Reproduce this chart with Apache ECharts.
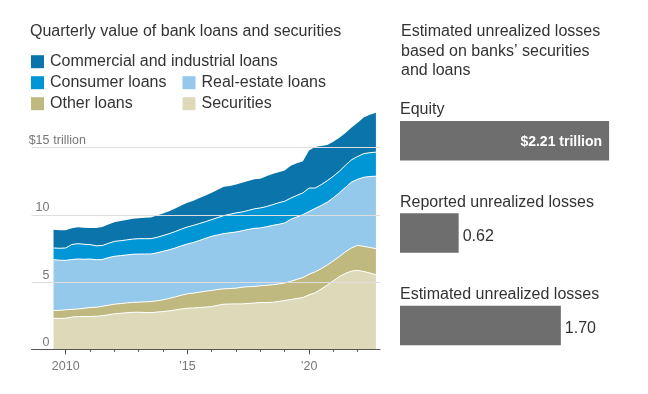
<!DOCTYPE html>
<html>
<head>
<meta charset="utf-8">
<script src="https://cdn.jsdelivr.net/npm/echarts@6/dist/echarts.min.js"></script>
<style>
html,body{margin:0;padding:0;background:#fff;}
#chart{width:648px;height:394px;}
</style>
</head>
<body>
<div id="chart"></div>
<script>
// ---- Data (trillions of dollars) ----
const quarters = [2009.5,2009.75,2010,2010.25,2010.5,2010.75,2011,2011.25,2011.5,2011.75,
  2012,2012.25,2012.5,2012.75,2013,2013.25,2013.5,2013.75,2014,2014.25,
  2014.5,2014.75,2015,2015.25,2015.5,2015.75,2016,2016.25,2016.5,2016.75,
  2017,2017.25,2017.5,2017.75,2018,2018.25,2018.5,2018.75,2019,2019.25,
  2019.5,2019.75,2020,2020.25,2020.5,2020.75,2021,2021.25,2021.5,2021.75,
  2022,2022.25,2022.5,2022.75];

const securities = [2.31,2.30,2.31,2.40,2.44,2.44,2.44,2.46,2.50,2.57,
  2.64,2.68,2.72,2.75,2.76,2.74,2.73,2.77,2.81,2.86,
  2.93,3.00,3.06,3.08,3.11,3.14,3.18,3.28,3.36,3.37,
  3.38,3.38,3.41,3.44,3.48,3.48,3.50,3.56,3.63,3.70,
  3.78,3.85,4.05,4.20,4.48,4.78,5.10,5.42,5.65,5.82,
  5.87,5.79,5.68,5.54];

const otherLoans = [0.58,0.60,0.63,0.57,0.56,0.61,0.67,0.67,0.70,0.71,
  0.72,0.72,0.73,0.74,0.75,0.79,0.82,0.84,0.87,0.92,
  0.97,1.02,1.07,1.10,1.14,1.18,1.20,1.17,1.14,1.15,
  1.17,1.24,1.25,1.23,1.25,1.28,1.30,1.30,1.30,1.36,
  1.42,1.49,1.53,1.56,1.52,1.49,1.48,1.48,1.60,1.73,
  1.86,1.87,1.90,1.95];

const realEstateLoans = [3.78,3.73,3.68,3.71,3.72,3.65,3.61,3.53,3.48,3.54,
  3.56,3.57,3.57,3.58,3.58,3.56,3.54,3.57,3.61,3.62,
  3.64,3.68,3.71,3.77,3.85,3.94,4.03,4.06,4.11,4.15,
  4.18,4.20,4.26,4.33,4.30,4.36,4.42,4.44,4.47,4.61,
  4.65,4.68,4.67,4.72,4.70,4.68,4.70,4.74,4.80,4.90,
  4.92,5.14,5.28,5.39];

const consumerLoans = [0.87,0.89,0.92,1.12,1.14,1.12,1.07,1.04,1.04,1.06,
  1.11,1.11,1.12,1.13,1.14,1.14,1.14,1.15,1.17,1.20,
  1.22,1.24,1.26,1.27,1.26,1.24,1.24,1.29,1.34,1.38,
  1.42,1.40,1.41,1.45,1.49,1.50,1.54,1.60,1.62,1.58,
  1.60,1.62,1.75,1.52,1.55,1.60,1.60,1.61,1.65,1.65,
  1.70,1.76,1.77,1.79];

const commercialLoans = [1.36,1.33,1.31,1.20,1.22,1.23,1.24,1.32,1.38,1.40,
  1.42,1.47,1.48,1.52,1.52,1.55,1.57,1.62,1.64,1.68,
  1.72,1.76,1.80,1.84,1.89,1.94,1.99,2.08,2.14,2.10,
  2.11,2.18,2.19,2.21,2.17,2.26,2.29,2.28,2.28,2.41,
  2.40,2.36,2.80,3.05,2.87,2.65,2.57,2.50,2.40,2.40,
  2.50,2.69,2.82,2.93];

const seriesNames = ['Securities','Other loans','Real-estate loans','Consumer loans','Commercial and industrial loans'];

const xTickValues = [2010, 2015, 2020];
const xTickLabels = ['2010', '\u201915', '\u201920'];
const xMinorTicks = [2010,2011,2012,2013,2014,2015,2016,2017,2018,2019,2020,2021,2022];
const yTickValues = [0, 5, 10, 15];
const yTickLabels = ['0', '5', '10', '$15'];
const yUnit = ' trillion';

const barCategories = ['Equity', 'Reported unrealized losses', 'Estimated unrealized losses'];
const barValues = [2.21, 0.62, 1.70];

// ---- Styling ----
const FONT = "'Liberation Sans', Arial, Helvetica, sans-serif";
const AXISFONT = "'Liberation Sans', Arial, sans-serif";
const colors = ['#ddd9b9', '#bfb87f', '#95c9eb', '#0096d6', '#0b74aa'];
const layers = [securities, otherLoans, realEstateLoans, consumerLoans, commercialLoans];

const gridMain = {left: 31.5, right: 268, top: 107.4, bottom: 44.7};

const chart = echarts.init(document.getElementById('chart'), null, {renderer: 'canvas'});

// value first, quarter second, so that stacking applies to the y values
const areaSeries = layers.map((arr, i) => ({
  name: seriesNames[i],
  type: 'line',
  stack: 'total',
  xAxisIndex: 0,
  yAxisIndex: 0,
  symbol: 'none',
  z: 2 + (layers.length - i),
  encode: {x: 1, y: 0},
  data: quarters.map((q, k) => [arr[k], q]),
  itemStyle: {color: colors[i]},
  lineStyle: {color: '#ffffff', width: i === layers.length - 1 ? 0 : 1, opacity: i === layers.length - 1 ? 0 : 1},
  areaStyle: {color: colors[i], opacity: 1},
  emphasis: {disabled: true},
  animation: false
}));

const legendCommon = {
  orient: 'vertical',
  padding: 0,
  itemGap: 5,
  itemWidth: 13,
  itemHeight: 13,
  icon: 'rect',
  selectedMode: false,
  itemStyle: {borderWidth: 0},
  textStyle: {fontFamily: FONT, fontSize: 16, color: '#333', lineHeight: 16, padding: [0,0,0,1]}
};

const option = {
  animation: false,
  backgroundColor: '#ffffff',
  color: colors,
  textStyle: {fontFamily: FONT},
  title: [
    {
      text: 'Quarterly value of bank loans and securities',
      left: 30, top: 22, padding: 0,
      textStyle: {fontFamily: FONT, fontSize: 16, fontWeight: 'normal', color: '#333', lineHeight: 20}
    },
    {
      text: 'Estimated unrealized losses\nbased on banks\u2019 securities\nand loans',
      left: 401, top: 22, padding: 0,
      textStyle: {fontFamily: FONT, fontSize: 16, fontWeight: 'normal', color: '#333', lineHeight: 19.5}
    }
  ],
  legend: [
    Object.assign({}, legendCommon, {left: 31, top: 53.7, data: ['Commercial and industrial loans', 'Consumer loans', 'Other loans']}),
    Object.assign({}, legendCommon, {left: 182.5, top: 74.7, data: ['Real-estate loans', 'Securities']})
  ],
  grid: [
    Object.assign({}, gridMain),
    {left: 400, right: 38.9, top: 94.5, bottom: 22.3},
    Object.assign({}, gridMain)
  ],
  xAxis: [
    {
      type: 'value', gridIndex: 0, min: 2008.594, max: 2022.918, z: 10,
      axisLine: {show: true, lineStyle: {color: '#555', width: 1}},
      axisTick: {show: true, length: 5, customValues: xTickValues, lineStyle: {color: '#555'}},
      axisLabel: {
        customValues: xTickValues, margin: 11,
        fontFamily: AXISFONT, fontSize: 12.5, color: '#777',
        formatter: v => xTickLabels[xTickValues.indexOf(Math.round(v))] || ''
      },
      splitLine: {show: false}
    },
    {
      type: 'value', gridIndex: 1, min: 0, max: 2.21, show: false
    },
    {
      type: 'value', gridIndex: 2, min: 2008.594, max: 2022.918, z: 11,
      axisLine: {show: false},
      axisTick: {show: true, length: 2.5, customValues: xMinorTicks, lineStyle: {color: '#555'}},
      axisLabel: {show: false},
      splitLine: {show: false}
    }
  ],
  yAxis: [
    {
      type: 'value', gridIndex: 0, min: 0, max: 18, z: 10,
      axisLine: {show: false},
      axisTick: {show: false, customValues: yTickValues},
      splitLine: {show: true, lineStyle: {color: '#dedede', width: 1}},
      axisLabel: {
        customValues: yTickValues,
        inside: true, align: 'right', verticalAlign: 'bottom', margin: 54.5,
        formatter: v => {
          const idx = yTickValues.indexOf(Math.round(v));
          const lbl = idx >= 0 ? yTickLabels[idx] : '';
          return '{n|' + lbl + '}{t|' + (idx === yTickValues.length - 1 ? yUnit : ' ') + '}';
        },
        rich: {
          n: {fontFamily: AXISFONT, fontSize: 12.5, color: '#777', lineHeight: 14},
          t: {fontFamily: AXISFONT, fontSize: 12.5, color: '#777', lineHeight: 14, width: 36.5}
        }
      }
    },
    {
      type: 'category', gridIndex: 1, data: barCategories, inverse: true,
      axisLine: {show: false}, axisTick: {show: false}, splitLine: {show: false},
      axisLabel: {
        inside: true, align: 'left', verticalAlign: 'bottom', margin: 0,
        padding: [0, 0, 22, 0],
        fontFamily: FONT, fontSize: 16, color: '#333', lineHeight: 18
      }
    },
    {
      type: 'value', gridIndex: 2, min: 0, max: 18, show: false
    }
  ],
  series: areaSeries.concat([
    {
      type: 'bar', xAxisIndex: 1, yAxisIndex: 1,
      barWidth: 39.5,
      itemStyle: {color: '#6e6e6e'},
      emphasis: {disabled: true},
      data: barValues.map((v, i) => ({
        value: v,
        label: i === 0 ? {
          show: true, position: 'insideRight', distance: 7, offset: [0, 1],
          fontFamily: FONT, fontSize: 14, fontWeight: 'bold', color: '#ffffff',
          formatter: p => '$' + p.value.toFixed(2) + ' trillion'
        } : {
          show: true, position: 'right', distance: 4, offset: [0, 3],
          fontFamily: FONT, fontSize: 16, color: '#333',
          formatter: p => p.value.toFixed(2)
        }
      }))
    }
  ])
};

chart.setOption(option);
</script>
</body>
</html>
